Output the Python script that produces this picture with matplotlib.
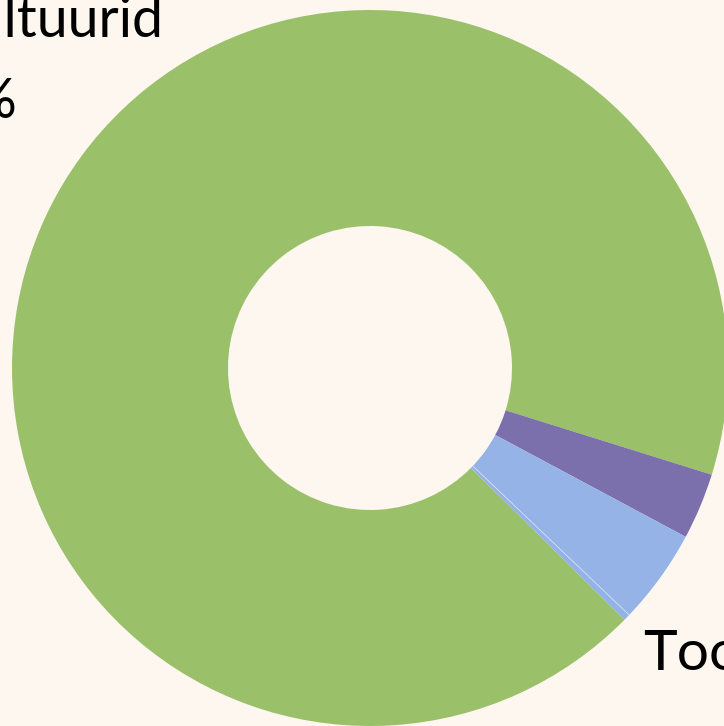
import numpy as np
import matplotlib
matplotlib.use("Agg")
import matplotlib.pyplot as plt

categories = ["Põllukultuurid", "Muu", "Toodang", "Muu 2"]
values = [92.4, 3.0, 4.3, 0.3]
colors = ["#9BC06A", "#7B6FAC", "#95B3E7", "#93B2E6"]
pct_labels = ["92%", "3%", "4%", "0%"]

W, H = 724, 726
BG = "#FEF7F0"
fig = plt.figure(figsize=(W / 100, H / 100), dpi=100, facecolor=BG)
ax = fig.add_axes([0, 0, 1, 1])
ax.set_facecolor(BG)

cx, cy = 370, H - 368
R = 358
ring = 216
wedges, _ = ax.pie(values, colors=colors, startangle=315.3, counterclock=False,
                   center=(cx, cy), radius=R, frame=True,
                   wedgeprops=dict(width=ring, linewidth=0))
ax.set_xlim(0, W)
ax.set_ylim(0, H)
ax.set_aspect("equal")
ax.axis("off")

# faint separator between the two blue slices
th = np.deg2rad(wedges[3].theta2)
ax.plot([cx + (R - ring) * np.cos(th), cx + R * np.cos(th)],
        [cy + (R - ring) * np.sin(th), cy + R * np.sin(th)],
        color="#D2DEF3", lw=0.6, solid_capstyle="butt")

font = "Lato"
ax.text(164, H - 37, categories[0], ha="right", va="baseline",
        fontsize=40, family=font, color="black")
ax.text(17, H - 118, pct_labels[0], ha="right", va="baseline",
        fontsize=40, family=font, color="black")
ax.text(643, H - 669, categories[2], ha="left", va="baseline",
        fontsize=41, family=font, color="black")

fig.savefig("out.png", dpi=100, facecolor=BG)
